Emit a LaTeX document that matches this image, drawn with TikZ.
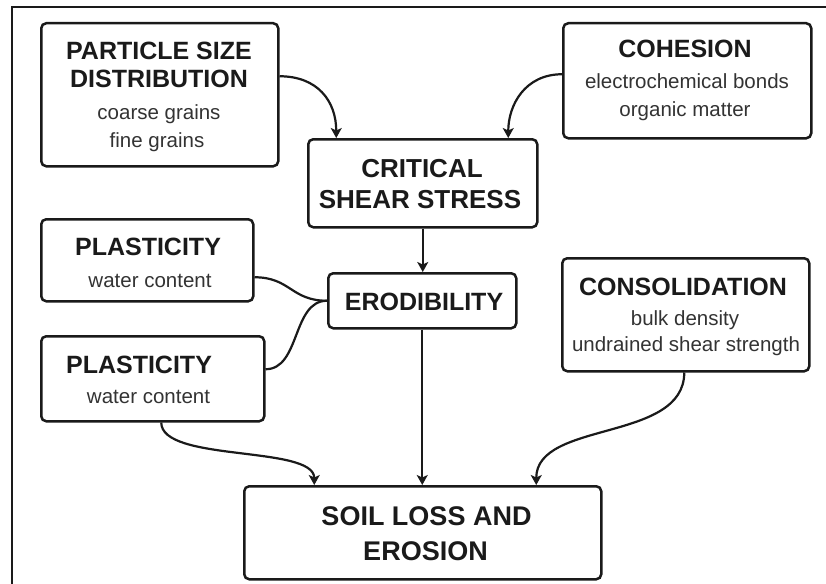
\documentclass[tikz,border=0pt]{standalone}
\usepackage{fontspec}
\setmainfont{Liberation Sans}
\usetikzlibrary{arrows.meta}
\definecolor{ink}{HTML}{1A1A1A}
\definecolor{subink}{HTML}{333333}
\begin{document}
\begin{tikzpicture}[x=1pt,y=1pt,
  box/.style={draw=ink, line width=2.5pt, rounded corners=5pt, inner sep=0pt, anchor=north west},
  hd/.style={anchor=base, inner sep=0pt, text=ink, font=\bfseries\fontsize{25}{29}\selectfont},
  sb/.style={anchor=base, inner sep=0pt, text=subink, font=\fontsize{20.5}{25}\selectfont},
  conn/.style={draw=ink, line width=2.2pt},
  arr/.style={conn, -{Stealth[length=10pt,width=11pt,inset=2.5pt]}},
]
\fill[white] (0,0) rectangle (826,-583);
\useasboundingbox (0,0) rectangle (826,-583);
\draw[ink, line width=2pt] (12,-590) -- (12,-7) -- (830,-7);

% boxes
\node[box, minimum width=237pt, minimum height=143pt] (psd) at (40,-22) {};
\node[box, minimum width=248pt, minimum height=115pt] (coh) at (562,-22) {};
\node[box, minimum width=229pt, minimum height=88pt] (css) at (307,-138) {};
\node[box, minimum width=212pt, minimum height=82pt] (plt) at (40,-218) {};
\node[box, minimum width=188pt, minimum height=55pt] (erod) at (327,-272) {};
\node[box, minimum width=223pt, minimum height=85pt] (plb) at (40,-335) {};
\node[box, minimum width=247pt, minimum height=113pt] (cons) at (561,-257) {};
\node[box, minimum width=357pt, minimum height=93pt] (soil) at (243,-485) {};

% texts
\node[hd] (psd1) at (159,-60) {PARTICLE SIZE};
\node[hd] (psd2) at (159,-88) {DISTRIBUTION};
\node[sb] (psd3) at (159,-119) {coarse grains};
\node[sb] (psd4) at (157,-147) {fine grains};

\node[hd] (coh1) at (685,-58) {COHESION};
\node[sb] (coh2) at (687,-89) {electrochemical bonds};
\node[sb] (coh3) at (685,-117) {organic matter};

\node[hd, font=\bfseries\fontsize{26}{29}\selectfont] (css1) at (422,-177) {CRITICAL};
\node[hd, font=\bfseries\fontsize{26}{29}\selectfont] (css2) at (420,-208) {SHEAR STRESS};

\node[hd] (plt1) at (148,-255) {PLASTICITY};
\node[sb] (plt2) at (150,-287) {water content};

\node[hd] (erod1) at (424,-310) {ERODIBILITY};

\node[hd] (plb1) at (139,-373) {PLASTICITY};
\node[sb] (plb2) at (148.5,-403) {water content};

\node[hd] (cons1) at (683,-295) {CONSOLIDATION};
\node[sb] (cons2) at (685,-325) {bulk density};
\node[sb] (cons3) at (686,-351) {undrained shear strength};

\node[hd, font=\bfseries\fontsize{27}{30}\selectfont] (soil1) at (426.5,-525) {SOIL LOSS AND};
\node[hd, font=\bfseries\fontsize{27}{30}\selectfont] (soil2) at (425.5,-560) {EROSION};

% connectors
\draw[arr] ([yshift=18.5pt]psd.east) .. controls +(38,0) and +(0,37) .. ([xshift=-86.5pt]css.north);
\draw[arr] ([yshift=6.5pt]coh.west) .. controls +(-37,0) and +(0,33) .. ([xshift=85.5pt]css.north);
\draw[arr] (css.south) -- (css.south |- erod.north);
\draw[conn] ([yshift=-17pt]plt.east) .. controls +(36,0) and +(-36,0) .. (erod.west);
\draw[conn] ([yshift=9.5pt]plb.east) .. controls +(35,0) and +(-35,0) .. (erod.west);
\draw[arr] (erod.south) -- (erod.south |- soil.north);
\draw[arr] ([xshift=8.5pt]plb.south) .. controls +(0,-40) and +(0,40) .. ([xshift=-108.5pt]soil.north);
\draw[arr] ([xshift=-1.5pt]cons.south) .. controls +(0,-70) and +(0,65) .. ([xshift=113.5pt]soil.north);
\end{tikzpicture}
\end{document}
